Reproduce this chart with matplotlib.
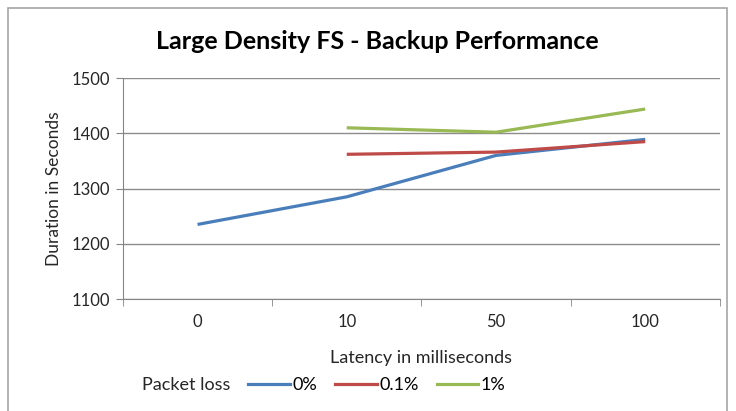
import numpy as np
import matplotlib.pyplot as plt
from matplotlib.patches import Rectangle
from matplotlib.lines import Line2D

plt.rcParams['font.family'] = ['Lato', 'DejaVu Sans']

# data
latency = ["0", "10", "50", "100"]
loss_0 = [1235, 1285, 1360, 1389]
loss_01 = [np.nan, 1362, 1366, 1385]
loss_1 = [np.nan, 1410, 1402, 1444]
series_names = ["0%", "0.1%", "1%"]
colors = ["#4A7EBB", "#BE4B48", "#98B954"]

fig = plt.figure(figsize=(7.36, 4.11), dpi=100)
ax = fig.add_axes([0.167, 0.2725, 0.811, 0.5375])

# chart border
fig.patches.append(Rectangle((8/736, -0.05), 719/736, 1.05 - 8/411,
                             transform=fig.transFigure, fill=False,
                             edgecolor="#A6A6A6", lw=1.2))

x = np.arange(len(latency))
for vals, c, name in zip([loss_0, loss_01, loss_1], colors, series_names):
    ax.plot(x, vals, color=c, lw=2.3, label=name, solid_capstyle='butt')

ax.set_xlim(-0.5, len(latency) - 0.5)
ax.set_ylim(1100, 1500)
ax.set_yticks([1100, 1200, 1300, 1400, 1500])
ax.set_xticks(x)
ax.set_xticklabels(latency)
ax.set_xticks(np.arange(-0.5, len(latency)), minor=True)
ax.tick_params(axis='x', which='major', length=0, pad=11, labelsize=12, colors="#262626")
ax.tick_params(axis='x', which='minor', length=5, color="#868686")
ax.tick_params(axis='y', length=5, color="#868686", labelsize=12, labelcolor="#262626", pad=4)

ax.grid(axis='y', color="#8C8C8C", lw=1)
ax.set_axisbelow(True)
for s in ['top', 'right']:
    ax.spines[s].set_visible(False)
for s in ['left', 'bottom']:
    ax.spines[s].set_color("#868686")

ax.set_xlabel("Latency in milliseconds", fontsize=13, color="#262626", labelpad=14)
ax.set_ylabel("Duration in Seconds", fontsize=12.5, color="#262626", labelpad=7)
fig.text(0.512, 0.90, "Large Density FS - Backup Performance", ha='center', va='center',
         fontsize=18, fontweight='bold', color="black")

# legend: title on left, entries in a row
fig.text(142/736, 1 - 385/411, "Packet loss", ha='left', va='center', fontsize=13, color="#262626")
handles = [Line2D([], [], color=c, lw=2.3) for c in colors]
fig.legend(handles, series_names, loc='center left', bbox_to_anchor=(248/736, 1 - 385/411),
           ncol=3, frameon=False, fontsize=13, handlelength=2.3, handletextpad=0.15,
           columnspacing=1.0, borderaxespad=0, borderpad=0)

fig.savefig("out.png", dpi=100)
